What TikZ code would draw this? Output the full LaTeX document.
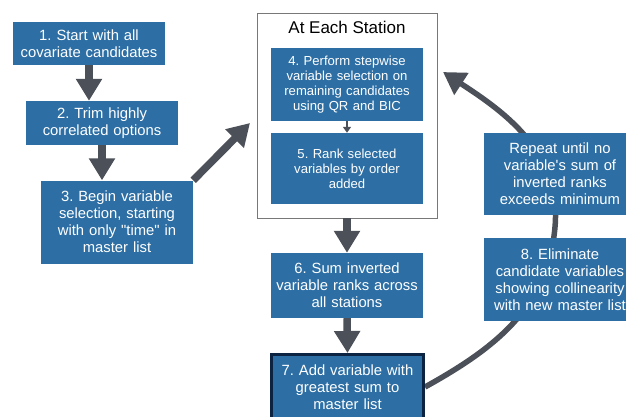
\documentclass[tikz,border=0pt]{standalone}
\usepackage{fontspec}
\setmainfont{Liberation Sans}
\usetikzlibrary{arrows.meta,backgrounds}
\definecolor{stepblue}{RGB}{45,111,165}
\definecolor{arrowgray}{RGB}{76,80,88}
\definecolor{boxnavy}{RGB}{12,36,66}
\definecolor{framegray}{RGB}{120,120,120}
\def\boxwidth{152pt}
\def\boxtext{146pt}

\begin{document}
\frenchspacing
\begin{tikzpicture}[x=1pt, y=1pt,
	stepbox/.style={fill=stepblue, text=white, align=center, inner sep=3pt,
		minimum width=\boxwidth, text width=\boxtext, font=\fontsize{14.8}{17}\selectfont},
	smalltext/.style={font=\fontsize{13.1}{15}\selectfont},
	stationbox/.style={draw=framegray, line width=0.8pt, minimum width=180pt, minimum height=205pt},
	bigarrow/.style={draw=arrowgray, line width=7.5pt, -{Triangle[width=25pt,length=22pt]}},
	smallarrow/.style={draw=arrowgray, line width=2pt, -{Triangle[width=8pt,length=6pt]}},
	arcarrow/.style={draw=arrowgray, line width=5.5pt, -{Triangle[width=25pt,length=22pt]}}]
	\useasboundingbox (0,0) rectangle (626,416);
	%\draw[step=50pt, line width=0.2pt, black!20!white] (0,0) grid (626,416);
	\node[stepbox, minimum height=43pt] (n1) at (89,372.5) {1. Start with all\\covariate candidates};
	\node[stepbox, minimum height=44pt] (n2) at (102,293) {2. Trim highly\\correlated options};
	\node[stepbox, minimum height=83pt] (n3) at (117,194) {3. Begin variable\\selection, starting\\with only \textquotedbl time\textquotedbl{} in\\master list};
	\node[stationbox] (station) at (347,300.5) {};
	\node[font=\fontsize{17}{20}\selectfont] (title) at (347,389) {At Each Station};
	\node[stepbox, smalltext, minimum height=73pt] (n4) at (347,331.5) {4. Perform stepwise\\variable selection on\\remaining candidates\\using QR and BIC};
	\node[stepbox, smalltext, minimum height=71pt] (n5) at (347,247.5) {5. Rank selected\\variables by order\\added};
	\node[stepbox, minimum height=65pt] (n6) at (347,130.5) {6. Sum inverted\\variable ranks across\\all stations};
	\node[stepbox, draw=boxnavy, line width=3pt, minimum height=65pt] (n7) at (347.5,29) {7. Add variable with\\greatest sum to\\master list};
	\node[stepbox, minimum height=82pt] (nR) at (560,242) {Repeat until no\\variable\textquotesingle s sum of\\inverted ranks\\exceeds minimum};
	\node[stepbox, minimum height=83pt] (n8) at (560,136.5) {8. Eliminate\\candidate variables\\showing collinearity\\with new master list};
	% free ends
	\coordinate (tip3) at (250,293);
	\coordinate (bend) at (555,189);
	\coordinate (tipR) at (443,344);
	\draw[bigarrow] (n1.south) -- (n1.south |- n2.north);
	\draw[bigarrow] (n2.south) -- (n2.south |- n3.north);
	\draw[bigarrow] (n3.north east) -- (tip3);
	\draw[smallarrow] (n4.south) -- (n5.north);
	\draw[bigarrow] (station.south) -- (n6.north);
	\draw[bigarrow] (n6.south) -- (n7.north);
	\begin{scope}[on background layer]
		\draw[arcarrow] (n7.east) to[out=29,in=-95] (bend) to[out=85,in=-33] (tipR);
	\end{scope}
\end{tikzpicture}
\end{document}
